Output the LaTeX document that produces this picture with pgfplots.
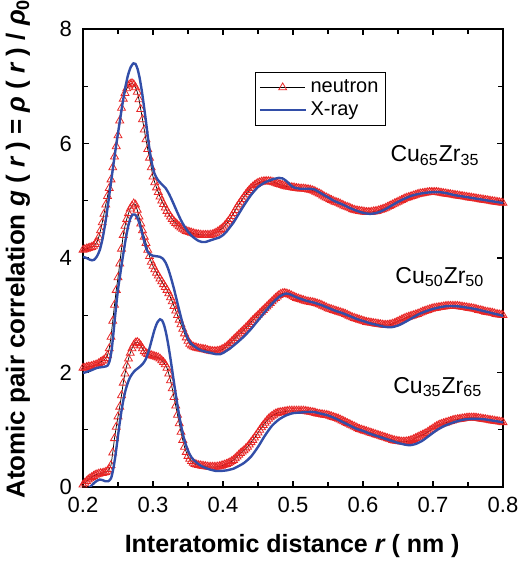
\documentclass[border=0pt]{standalone}
\usepackage{fontspec}
\setmainfont{Liberation Sans}
\usepackage{pgfplots}
\pgfplotsset{compat=1.18}

\definecolor{nred}{RGB}{232,38,38}
\definecolor{xblue}{RGB}{50,78,168}

\pgfplotsset{
  neutron/.style={black, line width=0.35pt, mark=triangle,
    mark size=2.3pt, mark options={solid, draw=nred, fill=none, line width=0.4pt}},
  xray/.style={xblue, line width=1.2pt, smooth, tension=0.4, no marks},
}

\begin{document}
\begin{tikzpicture}
\useasboundingbox (-41.5pt,-39pt) rectangle (217.5pt,243.5pt);
\begin{axis}[
  width=210pt, height=229pt, scale only axis,
  xmin=0.2, xmax=0.8, ymin=0, ymax=8,
  xtick={0.2,0.3,...,0.8}, ytick={0,2,4,6,8},
  minor x tick num=1, minor y tick num=1,
  tick align=inside,
  major tick length=3pt, minor tick length=2.6pt,
  axis line style={line width=0.7pt},
  every tick/.style={black, line width=0.6pt},
  /pgf/number format/assume math mode=true,
  /pgf/number format/fixed,
  /pgf/number format/precision=1,
  tick label style={font=\fontsize{11}{13}\selectfont},
  xticklabel style={yshift=-1.5pt},
  yticklabel style={xshift=-2pt},
  xlabel={\bfseries Interatomic distance {\itshape r} ( nm )},
  xlabel style={font=\fontsize{12.5}{15}\selectfont, at={(axis description cs:0.498,-0.144)}, anchor=base},
  ylabel={\bfseries Atomic pair correlation {\itshape g} ( {\itshape r} ) = {\itshape ρ} ( {\itshape r} ) / {\itshape ρ}\textsubscript{0}},
  ylabel style={font=\fontsize{13}{15}\selectfont, at={(axis description cs:-0.155,0.52)}, anchor=center},
  clip mode=individual,
  legend style={at={(axis description cs:0.41,0.906)}, anchor=north west,
    draw=black, line width=0.5pt, fill=white, font=\fontsize{10}{12}\selectfont,
    inner sep=1.5pt, row sep=-1pt, cells={anchor=west}},
  legend image code/.code={\draw[mark repeat=2,mark phase=2,#1] plot coordinates {(0cm,0cm) (0.4cm,0cm) (0.8cm,0cm)};},
]

% Cu65Zr35
\addplot[neutron] table {
0.2000 4.14
0.2025 4.15
0.2050 4.16
0.2075 4.17
0.2100 4.18
0.2125 4.19
0.2150 4.21
0.2175 4.24
0.2200 4.28
0.2225 4.36
0.2250 4.48
0.2275 4.62
0.2300 4.77
0.2325 4.93
0.2350 5.08
0.2375 5.22
0.2400 5.37
0.2425 5.58
0.2450 5.77
0.2475 5.95
0.2500 6.14
0.2525 6.40
0.2550 6.62
0.2575 6.78
0.2600 6.88
0.2625 6.96
0.2650 7.01
0.2675 7.04
0.2700 7.05
0.2725 7.03
0.2750 6.98
0.2775 6.90
0.2800 6.77
0.2825 6.60
0.2850 6.42
0.2875 6.24
0.2900 6.07
0.2925 5.90
0.2950 5.75
0.2975 5.58
0.3000 5.42
0.3025 5.32
0.3050 5.23
0.3075 5.15
0.3100 5.07
0.3125 5.00
0.3150 4.94
0.3175 4.88
0.3200 4.82
0.3225 4.77
0.3250 4.72
0.3275 4.68
0.3300 4.64
0.3325 4.61
0.3350 4.58
0.3375 4.55
0.3400 4.53
0.3425 4.51
0.3450 4.49
0.3475 4.47
0.3500 4.46
0.3525 4.45
0.3550 4.44
0.3575 4.43
0.3600 4.42
0.3625 4.415
0.3650 4.41
0.3675 4.405
0.3700 4.40
0.3725 4.40
0.3750 4.40
0.3775 4.40
0.3800 4.40
0.3825 4.405
0.3850 4.41
0.3875 4.425
0.3900 4.44
0.3925 4.46
0.3950 4.48
0.3975 4.505
0.4000 4.53
0.4025 4.565
0.4050 4.60
0.4075 4.64
0.4100 4.68
0.4125 4.73
0.4150 4.78
0.4175 4.835
0.4200 4.89
0.4225 4.935
0.4250 4.98
0.4275 5.025
0.4300 5.07
0.4325 5.11
0.4350 5.15
0.4375 5.185
0.4400 5.22
0.4425 5.245
0.4450 5.27
0.4475 5.29
0.4500 5.31
0.4525 5.32
0.4550 5.33
0.4575 5.335
0.4600 5.34
0.4625 5.34
0.4650 5.34
0.4675 5.335
0.4700 5.33
0.4725 5.32
0.4750 5.31
0.4775 5.30
0.4800 5.29
0.4825 5.28
0.4850 5.27
0.4875 5.26
0.4900 5.25
0.4925 5.245
0.4950 5.24
0.4975 5.235
0.5000 5.23
0.5025 5.225
0.5050 5.22
0.5075 5.215
0.5100 5.21
0.5125 5.21
0.5150 5.21
0.5175 5.205
0.5200 5.20
0.5225 5.195
0.5250 5.19
0.5275 5.18
0.5300 5.17
0.5325 5.155
0.5350 5.14
0.5375 5.125
0.5400 5.11
0.5425 5.09
0.5450 5.07
0.5475 5.055
0.5500 5.04
0.5525 5.025
0.5550 5.01
0.5575 4.995
0.5600 4.98
0.5625 4.97
0.5650 4.96
0.5675 4.945
0.5700 4.93
0.5725 4.915
0.5750 4.90
0.5775 4.89
0.5800 4.88
0.5825 4.865
0.5850 4.85
0.5875 4.84
0.5900 4.83
0.5925 4.825
0.5950 4.82
0.5975 4.815
0.6000 4.81
0.6025 4.805
0.6050 4.80
0.6075 4.80
0.6100 4.80
0.6125 4.805
0.6150 4.81
0.6175 4.815
0.6200 4.82
0.6225 4.83
0.6250 4.84
0.6275 4.85
0.6300 4.86
0.6325 4.875
0.6350 4.89
0.6375 4.905
0.6400 4.92
0.6425 4.935
0.6450 4.95
0.6475 4.965
0.6500 4.98
0.6525 4.995
0.6550 5.01
0.6575 5.025
0.6600 5.04
0.6625 5.05
0.6650 5.06
0.6675 5.07
0.6700 5.08
0.6725 5.09
0.6750 5.10
0.6775 5.11
0.6800 5.12
0.6825 5.125
0.6850 5.13
0.6875 5.135
0.6900 5.14
0.6925 5.145
0.6950 5.15
0.6975 5.15
0.7000 5.15
0.7025 5.15
0.7050 5.15
0.7075 5.145
0.7100 5.14
0.7125 5.135
0.7150 5.13
0.7175 5.125
0.7200 5.12
0.7225 5.115
0.7250 5.11
0.7275 5.105
0.7300 5.10
0.7325 5.095
0.7350 5.09
0.7375 5.085
0.7400 5.08
0.7425 5.075
0.7450 5.07
0.7475 5.065
0.7500 5.06
0.7525 5.055
0.7550 5.05
0.7575 5.045
0.7600 5.04
0.7625 5.035
0.7650 5.03
0.7675 5.025
0.7700 5.02
0.7725 5.015
0.7750 5.01
0.7775 5.005
0.7800 5.00
0.7825 4.995
0.7850 4.99
0.7875 4.985
0.7900 4.98
0.7925 4.975
0.7950 4.97
0.7975 4.965
0.8000 4.96
};
\addlegendentry{neutron}

\addplot[xray] table {
0.200 4.02
0.205 4.00
0.210 3.97
0.213 3.96
0.216 3.97
0.220 4.03
0.224 4.14
0.228 4.34
0.232 4.62
0.236 4.96
0.240 5.32
0.244 5.68
0.248 6.02
0.252 6.34
0.256 6.66
0.260 6.95
0.264 7.18
0.268 7.33
0.272 7.40
0.275 7.39
0.278 7.30
0.281 7.14
0.284 6.92
0.287 6.66
0.290 6.38
0.293 6.08
0.296 5.82
0.299 5.62
0.302 5.48
0.306 5.38
0.310 5.32
0.314 5.27
0.318 5.22
0.322 5.14
0.326 5.04
0.330 4.93
0.335 4.79
0.340 4.66
0.345 4.55
0.350 4.46
0.355 4.39
0.360 4.34
0.365 4.30
0.370 4.28
0.375 4.28
0.380 4.30
0.385 4.32
0.390 4.34
0.395 4.36
0.400 4.40
0.405 4.46
0.410 4.54
0.415 4.62
0.420 4.72
0.430 4.92
0.440 5.10
0.450 5.24
0.460 5.32
0.470 5.37
0.480 5.40
0.485 5.39
0.490 5.35
0.495 5.29
0.500 5.24
0.505 5.22
0.510 5.21
0.520 5.21
0.530 5.20
0.540 5.13
0.550 5.06
0.560 4.99
0.570 4.94
0.580 4.88
0.590 4.83
0.600 4.79
0.610 4.77
0.620 4.79
0.630 4.84
0.640 4.91
0.650 4.98
0.660 5.04
0.670 5.09
0.680 5.12
0.690 5.14
0.700 5.15
0.710 5.15
0.720 5.13
0.730 5.10
0.740 5.08
0.750 5.06
0.760 5.04
0.770 5.02
0.780 5.00
0.790 4.98
0.800 4.96
};
\addlegendentry{X-ray}

% Cu50Zr50
\addplot[neutron, forget plot] table {
0.2000 2.08
0.2025 2.08
0.2050 2.09
0.2075 2.10
0.2100 2.10
0.2125 2.11
0.2150 2.12
0.2175 2.13
0.2200 2.14
0.2225 2.16
0.2250 2.18
0.2275 2.20
0.2300 2.22
0.2325 2.25
0.2350 2.30
0.2375 2.42
0.2400 2.62
0.2425 2.90
0.2450 3.18
0.2475 3.44
0.2500 3.66
0.2525 3.90
0.2550 4.16
0.2575 4.40
0.2600 4.56
0.2625 4.68
0.2650 4.78
0.2675 4.86
0.2700 4.91
0.2725 4.95
0.2750 4.93
0.2775 4.84
0.2800 4.72
0.2825 4.60
0.2850 4.48
0.2875 4.37
0.2900 4.26
0.2925 4.14
0.2950 4.03
0.2975 3.93
0.3000 3.86
0.3025 3.80
0.3050 3.74
0.3075 3.69
0.3100 3.64
0.3125 3.59
0.3150 3.54
0.3175 3.49
0.3200 3.44
0.3225 3.38
0.3250 3.31
0.3275 3.24
0.3300 3.16
0.3325 3.08
0.3350 3.00
0.3375 2.92
0.3400 2.84
0.3425 2.76
0.3450 2.68
0.3475 2.61
0.3500 2.55
0.3525 2.50
0.3550 2.47
0.3575 2.45
0.3600 2.44
0.3625 2.43
0.3650 2.42
0.3675 2.415
0.3700 2.41
0.3725 2.405
0.3750 2.40
0.3775 2.39
0.3800 2.38
0.3825 2.375
0.3850 2.37
0.3875 2.37
0.3900 2.37
0.3925 2.375
0.3950 2.38
0.3975 2.395
0.4000 2.41
0.4025 2.43
0.4050 2.45
0.4075 2.48
0.4100 2.51
0.4125 2.54
0.4150 2.57
0.4175 2.60
0.4200 2.63
0.4225 2.66
0.4250 2.69
0.4275 2.72
0.4300 2.75
0.4325 2.78
0.4350 2.81
0.4375 2.845
0.4400 2.88
0.4425 2.91
0.4450 2.94
0.4475 2.97
0.4500 3.00
0.4525 3.03
0.4550 3.06
0.4575 3.09
0.4600 3.12
0.4625 3.15
0.4650 3.18
0.4675 3.21
0.4700 3.24
0.4725 3.27
0.4750 3.30
0.4775 3.325
0.4800 3.35
0.4825 3.37
0.4850 3.38
0.4875 3.385
0.4900 3.38
0.4925 3.37
0.4950 3.36
0.4975 3.345
0.5000 3.33
0.5025 3.315
0.5050 3.30
0.5075 3.29
0.5100 3.28
0.5125 3.27
0.5150 3.26
0.5175 3.25
0.5200 3.24
0.5225 3.235
0.5250 3.23
0.5275 3.225
0.5300 3.22
0.5325 3.21
0.5350 3.20
0.5375 3.19
0.5400 3.18
0.5425 3.165
0.5450 3.15
0.5475 3.135
0.5500 3.12
0.5525 3.11
0.5550 3.10
0.5575 3.09
0.5600 3.08
0.5625 3.07
0.5650 3.06
0.5675 3.05
0.5700 3.04
0.5725 3.03
0.5750 3.02
0.5775 3.005
0.5800 2.99
0.5825 2.975
0.5850 2.96
0.5875 2.95
0.5900 2.94
0.5925 2.93
0.5950 2.92
0.5975 2.91
0.6000 2.90
0.6025 2.89
0.6050 2.88
0.6075 2.875
0.6100 2.87
0.6125 2.865
0.6150 2.86
0.6175 2.855
0.6200 2.85
0.6225 2.845
0.6250 2.84
0.6275 2.835
0.6300 2.83
0.6325 2.83
0.6350 2.83
0.6375 2.835
0.6400 2.84
0.6425 2.85
0.6450 2.86
0.6475 2.875
0.6500 2.89
0.6525 2.905
0.6550 2.92
0.6575 2.935
0.6600 2.95
0.6625 2.96
0.6650 2.97
0.6675 2.98
0.6700 2.99
0.6725 3.00
0.6750 3.01
0.6775 3.02
0.6800 3.03
0.6825 3.045
0.6850 3.06
0.6875 3.07
0.6900 3.08
0.6925 3.09
0.6950 3.10
0.6975 3.11
0.7000 3.12
0.7025 3.125
0.7050 3.13
0.7075 3.135
0.7100 3.14
0.7125 3.145
0.7150 3.15
0.7175 3.155
0.7200 3.16
0.7225 3.16
0.7250 3.16
0.7275 3.16
0.7300 3.16
0.7325 3.16
0.7350 3.16
0.7375 3.155
0.7400 3.15
0.7425 3.145
0.7450 3.14
0.7475 3.135
0.7500 3.13
0.7525 3.125
0.7550 3.12
0.7575 3.115
0.7600 3.11
0.7625 3.10
0.7650 3.09
0.7675 3.085
0.7700 3.08
0.7725 3.07
0.7750 3.06
0.7775 3.055
0.7800 3.05
0.7825 3.045
0.7850 3.04
0.7875 3.03
0.7900 3.02
0.7925 3.015
0.7950 3.01
0.7975 3.005
0.8000 3.00
};

\addplot[xray, forget plot] table {
0.200 1.99
0.210 2.03
0.220 2.08
0.230 2.10
0.235 2.12
0.238 2.20
0.241 2.40
0.244 2.75
0.247 3.12
0.250 3.45
0.253 3.70
0.256 3.95
0.259 4.18
0.262 4.40
0.265 4.58
0.268 4.70
0.271 4.76
0.274 4.76
0.277 4.72
0.280 4.63
0.283 4.50
0.286 4.36
0.289 4.22
0.292 4.12
0.295 4.07
0.300 4.04
0.305 4.03
0.310 4.02
0.314 3.99
0.318 3.92
0.322 3.80
0.326 3.64
0.330 3.46
0.334 3.26
0.338 3.06
0.342 2.87
0.346 2.71
0.350 2.59
0.355 2.50
0.360 2.45
0.365 2.41
0.370 2.38
0.380 2.35
0.390 2.32
0.396 2.32
0.400 2.34
0.405 2.38
0.410 2.42
0.415 2.47
0.420 2.52
0.430 2.63
0.440 2.76
0.450 2.91
0.460 3.06
0.470 3.20
0.480 3.32
0.490 3.38
0.495 3.37
0.500 3.34
0.510 3.29
0.520 3.25
0.530 3.22
0.540 3.18
0.550 3.13
0.560 3.08
0.570 3.04
0.580 2.99
0.590 2.94
0.600 2.90
0.610 2.86
0.620 2.83
0.630 2.80
0.640 2.79
0.650 2.82
0.660 2.88
0.670 2.95
0.680 3.02
0.690 3.07
0.700 3.11
0.710 3.14
0.720 3.16
0.730 3.16
0.740 3.15
0.750 3.13
0.760 3.11
0.770 3.08
0.780 3.05
0.790 3.02
0.800 2.99
};

% Cu35Zr65
\addplot[neutron, forget plot] table {
0.2000 0.04
0.2025 0.07
0.2050 0.10
0.2075 0.13
0.2100 0.15
0.2125 0.17
0.2150 0.19
0.2175 0.21
0.2200 0.22
0.2225 0.23
0.2250 0.24
0.2275 0.24
0.2300 0.25
0.2325 0.26
0.2350 0.28
0.2375 0.31
0.2400 0.38
0.2425 0.60
0.2450 0.85
0.2475 1.05
0.2500 1.23
0.2525 1.40
0.2550 1.60
0.2575 1.82
0.2600 1.98
0.2625 2.12
0.2650 2.24
0.2675 2.34
0.2700 2.42
0.2725 2.48
0.2750 2.52
0.2775 2.53
0.2800 2.51
0.2825 2.47
0.2850 2.42
0.2875 2.37
0.2900 2.34
0.2925 2.32
0.2950 2.31
0.2975 2.30
0.3000 2.29
0.3025 2.28
0.3050 2.27
0.3075 2.26
0.3100 2.24
0.3125 2.21
0.3150 2.18
0.3175 2.14
0.3200 2.08
0.3225 1.98
0.3250 1.86
0.3275 1.72
0.3300 1.57
0.3325 1.42
0.3350 1.26
0.3375 1.11
0.3400 0.96
0.3425 0.82
0.3450 0.70
0.3475 0.61
0.3500 0.54
0.3525 0.49
0.3550 0.45
0.3575 0.42
0.3600 0.40
0.3625 0.39
0.3650 0.38
0.3675 0.375
0.3700 0.37
0.3725 0.365
0.3750 0.36
0.3775 0.355
0.3800 0.35
0.3825 0.35
0.3850 0.35
0.3875 0.35
0.3900 0.35
0.3925 0.355
0.3950 0.36
0.3975 0.37
0.4000 0.38
0.4025 0.39
0.4050 0.40
0.4075 0.415
0.4100 0.43
0.4125 0.45
0.4150 0.47
0.4175 0.50
0.4200 0.53
0.4225 0.56
0.4250 0.59
0.4275 0.615
0.4300 0.64
0.4325 0.67
0.4350 0.70
0.4375 0.74
0.4400 0.78
0.4425 0.82
0.4450 0.86
0.4475 0.905
0.4500 0.95
0.4525 0.995
0.4550 1.04
0.4575 1.08
0.4600 1.12
0.4625 1.155
0.4650 1.19
0.4675 1.215
0.4700 1.24
0.4725 1.26
0.4750 1.28
0.4775 1.29
0.4800 1.30
0.4825 1.305
0.4850 1.31
0.4875 1.315
0.4900 1.32
0.4925 1.325
0.4950 1.33
0.4975 1.33
0.5000 1.33
0.5025 1.33
0.5050 1.33
0.5075 1.33
0.5100 1.33
0.5125 1.33
0.5150 1.33
0.5175 1.325
0.5200 1.32
0.5225 1.315
0.5250 1.31
0.5275 1.305
0.5300 1.30
0.5325 1.29
0.5350 1.28
0.5375 1.275
0.5400 1.27
0.5425 1.265
0.5450 1.26
0.5475 1.255
0.5500 1.25
0.5525 1.24
0.5550 1.23
0.5575 1.22
0.5600 1.21
0.5625 1.20
0.5650 1.19
0.5675 1.175
0.5700 1.16
0.5725 1.145
0.5750 1.13
0.5775 1.115
0.5800 1.10
0.5825 1.085
0.5850 1.07
0.5875 1.055
0.5900 1.04
0.5925 1.025
0.5950 1.01
0.5975 1.00
0.6000 0.99
0.6025 0.98
0.6050 0.97
0.6075 0.96
0.6100 0.95
0.6125 0.94
0.6150 0.93
0.6175 0.92
0.6200 0.91
0.6225 0.90
0.6250 0.89
0.6275 0.88
0.6300 0.87
0.6325 0.86
0.6350 0.85
0.6375 0.84
0.6400 0.83
0.6425 0.82
0.6450 0.81
0.6475 0.805
0.6500 0.80
0.6525 0.795
0.6550 0.79
0.6575 0.79
0.6600 0.79
0.6625 0.795
0.6650 0.80
0.6675 0.81
0.6700 0.82
0.6725 0.835
0.6750 0.85
0.6775 0.865
0.6800 0.88
0.6825 0.895
0.6850 0.91
0.6875 0.925
0.6900 0.94
0.6925 0.96
0.6950 0.98
0.6975 1.00
0.7000 1.02
0.7025 1.04
0.7050 1.06
0.7075 1.075
0.7100 1.09
0.7125 1.10
0.7150 1.11
0.7175 1.12
0.7200 1.13
0.7225 1.14
0.7250 1.15
0.7275 1.16
0.7300 1.17
0.7325 1.175
0.7350 1.18
0.7375 1.185
0.7400 1.19
0.7425 1.195
0.7450 1.20
0.7475 1.205
0.7500 1.21
0.7525 1.21
0.7550 1.21
0.7575 1.21
0.7600 1.21
0.7625 1.205
0.7650 1.20
0.7675 1.195
0.7700 1.19
0.7725 1.185
0.7750 1.18
0.7775 1.175
0.7800 1.17
0.7825 1.165
0.7850 1.16
0.7875 1.155
0.7900 1.15
0.7925 1.145
0.7950 1.14
0.7975 1.135
0.8000 1.13
};

\addplot[xray, forget plot] table {
0.205 -0.05
0.210 0.00
0.215 0.06
0.220 0.11
0.224 0.13
0.228 0.12
0.232 0.10
0.236 0.10
0.240 0.15
0.243 0.30
0.246 0.52
0.249 0.80
0.252 1.08
0.255 1.33
0.258 1.54
0.261 1.70
0.264 1.82
0.267 1.91
0.270 1.97
0.274 2.03
0.278 2.07
0.282 2.11
0.286 2.16
0.290 2.24
0.294 2.38
0.298 2.56
0.302 2.74
0.306 2.87
0.310 2.93
0.313 2.91
0.316 2.82
0.319 2.67
0.322 2.47
0.325 2.24
0.328 1.99
0.331 1.74
0.334 1.50
0.337 1.28
0.340 1.08
0.344 0.86
0.348 0.70
0.352 0.58
0.356 0.50
0.360 0.45
0.365 0.40
0.370 0.36
0.380 0.31
0.390 0.28
0.396 0.28
0.405 0.29
0.415 0.32
0.420 0.35
0.430 0.42
0.440 0.53
0.450 0.70
0.460 0.90
0.470 1.07
0.480 1.18
0.490 1.25
0.500 1.29
0.510 1.30
0.520 1.31
0.530 1.31
0.540 1.28
0.550 1.25
0.560 1.20
0.570 1.14
0.580 1.08
0.590 1.02
0.600 0.98
0.610 0.93
0.620 0.89
0.630 0.85
0.640 0.81
0.650 0.77
0.660 0.74
0.667 0.73
0.675 0.75
0.685 0.81
0.695 0.90
0.705 0.99
0.715 1.06
0.725 1.11
0.735 1.15
0.745 1.18
0.755 1.19
0.765 1.19
0.775 1.18
0.785 1.16
0.795 1.14
0.800 1.13
};

\node[anchor=base east, inner sep=0pt, font=\fontsize{11.5}{13}\selectfont] at (axis cs:0.767,5.68) {Cu\textsubscript{65}Zr\textsubscript{35}};
\node[anchor=base east, inner sep=0pt, font=\fontsize{11.5}{13}\selectfont] at (axis cs:0.774,3.56) {Cu\textsubscript{50}Zr\textsubscript{50}};
\node[anchor=base east, inner sep=0pt, font=\fontsize{11.5}{13}\selectfont] at (axis cs:0.771,1.64) {Cu\textsubscript{35}Zr\textsubscript{65}};
\end{axis}
\end{tikzpicture}
\end{document}
